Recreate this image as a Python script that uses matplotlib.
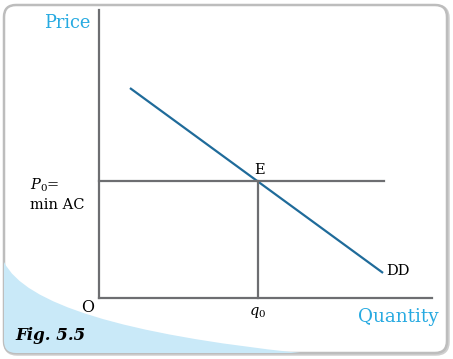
import matplotlib
matplotlib.use('Agg')
import matplotlib.pyplot as plt
from matplotlib.patches import FancyBboxPatch, PathPatch
from matplotlib.path import Path

plt.rcParams['font.family'] = 'DejaVu Serif'
plt.rcParams['mathtext.fontset'] = 'dejavuserif'

# data (quantity / price units)
dd_q = [0.93, 8.53]
dd_p = [7.29, 0.87]
q0 = 4.77
p0 = 4.06
p0_line_end = 8.56

axis_grey = '#6d6e71'
dd_blue = '#1f6b9a'
label_blue = '#27aae1'

fig = plt.figure(figsize=(4.53, 3.59), dpi=100)

# background: rounded box and blue corner
bg = fig.add_axes([0, 0, 1, 1])
bg.set_xlim(0, 453)
bg.set_ylim(359, 0)
bg.axis('off')

shadow = FancyBboxPatch((5, 6), 443, 348, boxstyle='round,pad=0,rounding_size=12',
                        facecolor='none', edgecolor='#cfcfcf', lw=2.5, zorder=0.5)
bg.add_patch(shadow)
box = FancyBboxPatch((4, 5), 443, 348, boxstyle='round,pad=0,rounding_size=12',
                     facecolor='white', edgecolor='#bdbdbd', lw=1.8, zorder=1)
bg.add_patch(box)
verts = [(4, 262), (35, 325), (300, 353), (4, 353), (4, 262)]
codes = [Path.MOVETO, Path.CURVE3, Path.CURVE3, Path.LINETO, Path.CLOSEPOLY]
corner = PathPatch(Path(verts, codes), facecolor='#c9e9f8', edgecolor='none', zorder=2)
bg.add_patch(corner)
corner.set_clip_path(box)

# main chart
ax = fig.add_axes([99 / 453, (359 - 298) / 359, (432 - 99) / 453, (298 - 10) / 359])
ax.patch.set_alpha(0)
ax.set_xlim(0, 10)
ax.set_ylim(0, 10)
for s in ['top', 'right']:
    ax.spines[s].set_visible(False)
for s in ['left', 'bottom']:
    ax.spines[s].set_color(axis_grey)
    ax.spines[s].set_linewidth(1.6)
ax.set_xticks([])
ax.set_yticks([])

ax.plot(dd_q, dd_p, color=dd_blue, lw=1.6, solid_capstyle='butt', clip_on=False)
ax.plot([0, p0_line_end], [p0, p0], color=axis_grey, lw=1.6, clip_on=False)
ax.plot([q0, q0], [0, p0], color=axis_grey, lw=1.6, clip_on=False)

# labels
bg.text(90, 23, 'Price', color=label_blue, fontsize=12.8, ha='right', va='center', zorder=5)
bg.text(439, 317, 'Quantity', color=label_blue, fontsize=13.2, ha='right', va='center', zorder=5)
bg.text(260, 170, 'E', fontsize=10.5, ha='center', va='center', zorder=5)
bg.text(386, 271, 'DD', fontsize=10.5, ha='left', va='center', zorder=5)
bg.text(88, 307, 'O', fontsize=11.5, ha='center', va='center', zorder=5)
bg.text(258, 312, r'$q_0$', fontsize=10.5, ha='center', va='center', zorder=5)
bg.text(30, 185, r'$P_0$=', fontsize=10.5, ha='left', va='center', zorder=5)
bg.text(30, 205, 'min AC', fontsize=10.5, ha='left', va='center', zorder=5)
bg.text(15, 336, 'Fig. 5.5', fontsize=12, fontweight='bold', fontstyle='italic',
        ha='left', va='center', zorder=5)

fig.savefig('out.png', dpi=100)
